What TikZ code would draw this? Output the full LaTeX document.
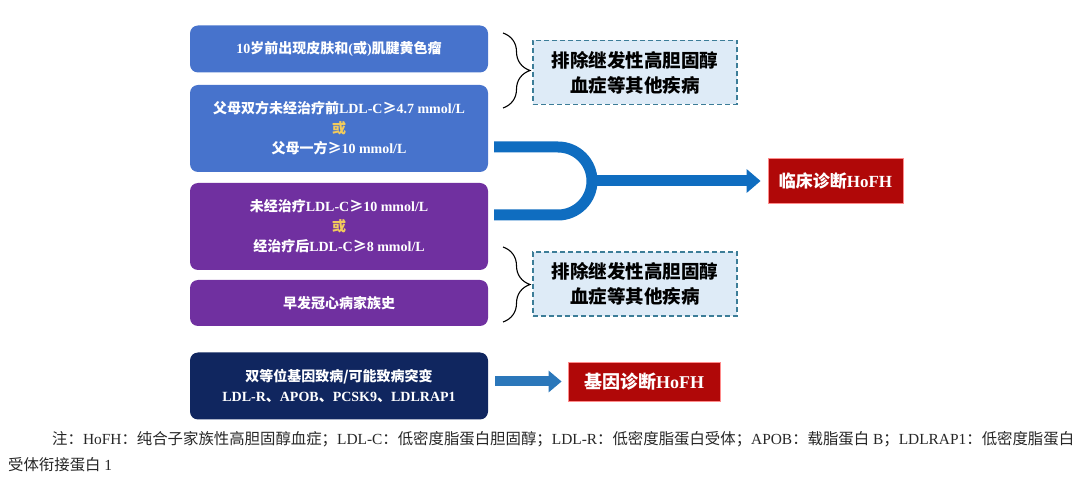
\documentclass[tikz,border=0pt]{standalone}
\usepackage{fontspec}
\setmainfont{Liberation Serif}
\newfontfamily\cjk{Noto Sans CJK SC}
\usetikzlibrary{arrows.meta,decorations.pathreplacing}

\newcommand{\zh}[1]{{\cjk #1}}

\definecolor{critblue}{HTML}{4773CC}
\definecolor{critpurple}{HTML}{7030A0}
\definecolor{critnavy}{HTML}{10265F}
\definecolor{diagred}{HTML}{B00808}
\definecolor{forkblue}{HTML}{0F6DC0}
\definecolor{genearrow}{HTML}{2B77BA}
\definecolor{exclfill}{HTML}{DEEBF7}
\definecolor{excldraw}{HTML}{3C7D98}
\definecolor{orgold}{HTML}{F2CB5C}

\tikzset{
  critbox/.style={rounded corners=8pt, minimum width=298pt, inner sep=0pt,
    align=center, text=white, font=\bfseries\fontsize{14}{20}\selectfont},
  exclbox/.style={draw=excldraw, fill=exclfill, dashed, dash pattern=on 5pt off 3pt,
    line width=1.3pt, minimum width=204pt, minimum height=64pt, inner sep=0pt,
    align=center, font=\bfseries\fontsize{18.5}{25}\selectfont},
  diagbox/.style={fill=diagred, draw=red!45!white, line width=0.8pt, inner sep=0pt,
    text=white, font=\bfseries\fontsize{17}{20}\selectfont},
  bracket/.style={decorate, decoration={brace, amplitude=27pt}, line width=1.1pt},
  fork/.style={draw=forkblue, line width=11pt},
  notetext/.style={anchor=base west, inner sep=0pt, text=black!85,
    font=\fontsize{15.4}{18}\selectfont},
}

\begin{document}
\begin{tikzpicture}[x=1pt, y=-1pt]
  \useasboundingbox (0,0) rectangle (1080,486);

  % Left column of criteria
  \node[critbox, fill=critblue, minimum height=47pt] (skin) at (339,49)
    {10\zh{岁前出现皮肤和}(\zh{或})\zh{肌腱黄色瘤}};
  \node[critbox, fill=critblue, minimum height=87pt] (parents) at (339,128.5)
    {\zh{父母双方未经治疗前}LDL-C\zh{≥}4.7 mmol/L\\
     \textcolor{orgold}{\zh{或}}\\
     \zh{父母一方≥}10 mmol/L};
  \node[critbox, fill=critpurple, minimum height=87pt] (ldlc) at (339,226.5)
    {\zh{未经治疗}LDL-C\zh{≥}10 mmol/L\\
     \textcolor{orgold}{\zh{或}}\\
     \zh{经治疗后}LDL-C\zh{≥}8 mmol/L};
  \node[critbox, fill=critpurple, minimum height=46pt] (chd) at (339,303)
    {\zh{早发冠心病家族史}};
  \node[critbox, fill=critnavy, minimum height=67pt] (mut) at (339,386)
    {\zh{双等位基因致病/可能致病突变}\\
     LDL-R\zh{、}APOB\zh{、}PCSK9\zh{、}LDLRAP1};

  % Exclusion boxes with braces
  \node[exclbox] (excl1) at (635,72.5) {\zh{排除继发性高胆固醇}\\\zh{血症等其他疾病}};
  \node[exclbox] (excl2) at (635,284) {\zh{排除继发性高胆固醇}\\\zh{血症等其他疾病}};
  \coordinate (brA1) at (503,33);
  \coordinate (brB1) at (503,108);
  \coordinate (brA2) at (503,247);
  \coordinate (brB2) at (503,322);
  \draw[bracket] (brA1) -- (brB1);
  \draw[bracket] (brA2) -- (brB2);

  % Diagnoses
  \node[diagbox, minimum width=135pt, minimum height=45pt] (clin) at (835.5,181)
    {\zh{临床诊断}HoFH};
  \node[diagbox, minimum width=152pt, minimum height=39pt, font=\bfseries\fontsize{18}{20}\selectfont]
    (gene) at (644,381.5) {\zh{基因诊断}HoFH};

  % Fork joining the two blocks
  \coordinate (forkA) at (494,147);
  \coordinate (forkB) at (494,215);
  \coordinate (forkM) at (587,181);
  \draw[fork, rounded corners=34pt] (forkA) -- (592,147) -- (592,215) -- (forkB);
  \draw[fork, -{Triangle[width=23pt,length=14pt]}, shorten >=7pt]
    (forkM) -- (clin.west);
  \coordinate (geneA) at (495,381.5);
  \draw[draw=genearrow, line width=10pt, -{Triangle[width=21pt,length=13pt]}, shorten >=6pt]
    (geneA) -- (gene.west);

  % Caption
  \node[notetext] (note1) at (52,445)
    {\zh{注：}HoFH\zh{：纯合子家族性高胆固醇血症；}LDL-C\zh{：低密度脂蛋白胆固醇；}LDL-R\zh{：低密度脂蛋白受体；}APOB\zh{：载脂蛋白} B\zh{；}LDLRAP1\zh{：低密度脂蛋白}};
  \node[notetext] (note2) at (8,471) {\zh{受体衔接蛋白} 1};
\end{tikzpicture}
\end{document}
